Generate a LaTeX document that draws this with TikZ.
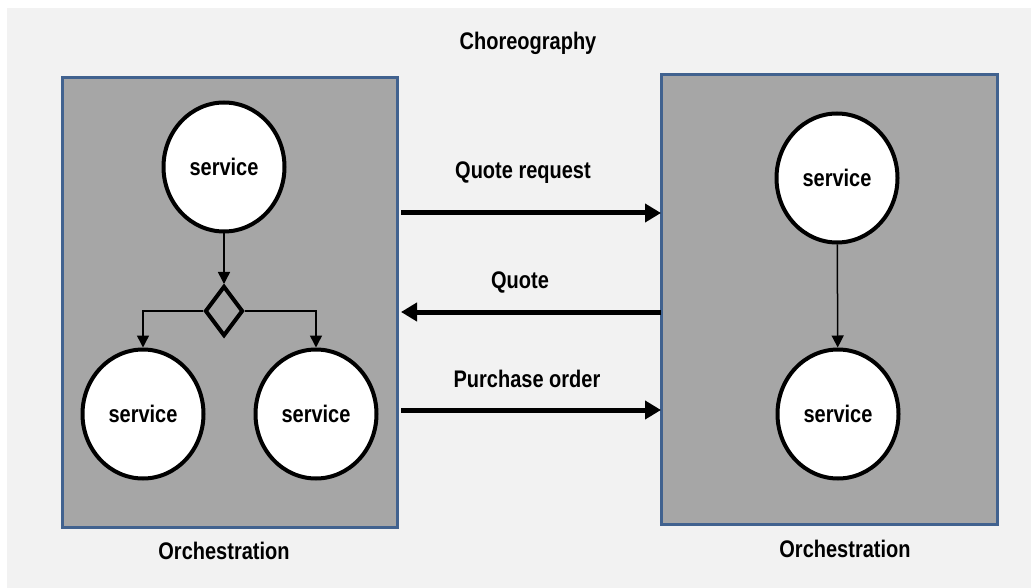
\documentclass[tikz,border=0pt]{standalone}
\usepackage{fontspec}
\usepackage{graphicx}
\setmainfont{Liberation Sans}
\usetikzlibrary{arrows.meta,shapes.geometric}
\definecolor{bgc}{HTML}{F2F2F2}
\definecolor{boxfill}{HTML}{A6A6A6}
\definecolor{boxline}{HTML}{41628F}
\newcommand{\tallt}[1]{\scalebox{1}[1.2]{#1}}
\tikzset{
  lbl/.style={font=\fontsize{20}{24}\selectfont\bfseries, inner sep=0pt},
  orch/.style={draw=boxline, line width=3pt, fill=boxfill},
  svc/.style={ellipse, draw=black, line width=4pt, fill=white, minimum width=121pt, minimum height=129pt, inner sep=0pt, font=\fontsize{20}{24}\selectfont\bfseries},
  gate/.style={diamond, draw=black, line width=4pt, minimum width=38pt, minimum height=50pt, inner sep=0pt},
  thin/.style={line width=1.5pt, -{Triangle[length=12pt,width=12pt]}},
  msg/.style={line width=5pt, -{Triangle[length=16pt,width=18pt]}}
}
\begin{document}
\begin{tikzpicture}[x=1pt,y=-1pt]
\useasboundingbox (0,0) rectangle (1031,588);
\fill[bgc] (7,8) rectangle (1031,588);
\draw[orch] (62,78) rectangle (397,527);
\draw[orch] (661,75) rectangle (997,524);
\node[lbl] (chor) at (528,43) {\tallt{Choreography}};
\node[lbl] (o1) at (224,551) {\tallt{Orchestration}};
\node[lbl] (o2) at (845,549) {\tallt{Orchestration}};
\node[svc] (s1) at (224,167) {\tallt{service}};
\node[svc] (s2) at (143,414) {\tallt{service}};
\node[svc] (s3) at (316,414) {\tallt{service}};
\node[svc] (s4) at (837,178) {\tallt{service}};
\node[svc] (s5) at (838,414) {\tallt{service}};
\node[gate] (g) at (224,311) {};
\draw[thin] (s1) -- (g);
\draw[thin] (g.west) -| (s2.north);
\draw[thin] (g.east) -| (s3.north);
\draw[thin] (s4) -- (s5);
\coordinate (a1) at (401,213); \coordinate (b1) at (661,213);
\coordinate (a2) at (661,312); \coordinate (b2) at (401,312);
\coordinate (a3) at (401,410); \coordinate (b3) at (661,410);
\draw[msg] (a1) -- (b1);
\draw[msg] (a2) -- (b2);
\draw[msg] (a3) -- (b3);
\node[lbl] (m1) at (523,173) {\tallt{Quote request}};
\node[lbl] (m2) at (520,282) {\tallt{Quote}};
\node[lbl] (m3) at (527,379) {\tallt{Purchase order}};
\end{tikzpicture}
\end{document}
